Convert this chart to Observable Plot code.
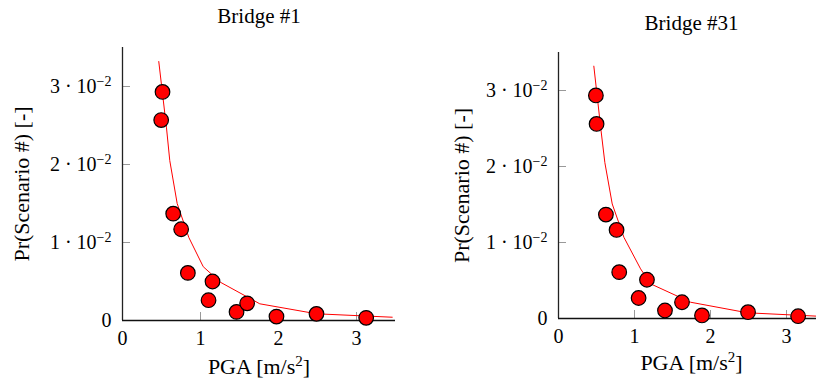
<!DOCTYPE html>
<html><head><meta charset="utf-8">
<script src="https://cdn.jsdelivr.net/npm/d3@7"></script>
<script src="https://cdn.jsdelivr.net/npm/@observablehq/plot@0.6"></script>
<style>
html,body{margin:0;padding:0;background:#fff;overflow:hidden;}
#wrap{position:relative;width:816px;height:383px;overflow:hidden;}
#wrap svg{position:absolute;top:0;}
</style></head><body><div id="wrap"></div>
<script>
const titles = ["Bridge #1", "Bridge #31"];
const xLabel = "PGA [m/s²]";
const yLabel = "Pr(Scenario #) [-]";
const xTicks = [0, 1, 2, 3];
const yTicks = [0, 0.01, 0.02, 0.03];
const yTickLabels = ["0", "1 · 10⁻²", "2 · 10⁻²", "3 · 10⁻²"];

// Bridge #1
const pga1 = [0.513, 0.496, 0.650, 0.752, 0.838, 1.154, 1.103, 1.462, 1.598, 1.974, 2.487, 3.124];
const pr1  = [0.0293, 0.0257, 0.0137, 0.0117, 0.0061, 0.0050, 0.0026, 0.0011, 0.0022, 0.0005, 0.00085, 0.00034];
const fitX1 = [0.465, 0.564, 0.606, 0.701, 0.850, 1.035, 1.256, 1.760, 2.487, 3.458];
const fitY1 = [0.0332, 0.0247, 0.0205, 0.0150, 0.01065, 0.0069, 0.0049, 0.00214, 0.00086, 0.00042];

// Bridge #31
const pga31 = [0.492, 0.501, 0.624, 0.764, 0.799, 1.164, 1.054, 1.401, 1.625, 1.888, 2.494, 3.153];
const pr31  = [0.02935, 0.0256, 0.01367, 0.01165, 0.0061, 0.0051, 0.0027, 0.00105, 0.00214, 0.0004, 0.00083, 0.0003];
const fitX31 = [0.465, 0.560, 0.610, 0.707, 0.861, 1.080, 1.212, 1.739, 2.486, 3.460];
const fitY31 = [0.0332, 0.0247, 0.0205, 0.01507, 0.01068, 0.00653, 0.00456, 0.00214, 0.00075, 0.00028];

const SVGNS = "http://www.w3.org/2000/svg";
function tspan(txt, attrs) {
  const t = document.createElementNS(SVGNS, "tspan");
  for (const k in attrs) t.setAttribute(k, attrs[k]);
  t.textContent = txt;
  return t;
}
// render "⁻²" / "²" as real raised superscripts
function fixSuperscripts(svg) {
  svg.querySelectorAll("text").forEach(el => {
    const s = el.textContent;
    let m = s.match(/^(.*10)⁻²$/);
    if (m) {
      el.textContent = "";
      el.appendChild(tspan(m[1], {}));
      el.appendChild(tspan("−2", {dy: "-7", "font-size": "14"}));
      return;
    }
    m = s.match(/^(.*)²(.*)$/);
    if (m) {
      el.textContent = "";
      el.appendChild(tspan(m[1], {}));
      el.appendChild(tspan("2", {dy: "-8", "font-size": "15"}));
      el.appendChild(tspan(m[2], {dy: "8"}));
    }
  });
}

function panel(cfg) {
  const pts = cfg.pga.map((x, i) => ({x, y: cfg.pr[i]}));
  const fit = cfg.fitX.map((x, i) => ({x, y: cfg.fitY[i]}));
  const svg = Plot.plot({
    width: cfg.width, height: 383,
    marginLeft: cfg.ml, marginRight: cfg.mr, marginTop: cfg.mt, marginBottom: cfg.mb,
    style: {fontFamily: "'Liberation Serif', serif", fontSize: "20px", color: "#000", background: "transparent", overflow: "visible"},
    x: {domain: [0, 3.5]},
    y: {domain: [0, 0.035]},
    marks: [
      Plot.axisX({ticks: xTicks, tickSize: -8, tickPadding: 18, stroke: "#999", fill: "#000", label: null, tickFormat: d => String(d)}),
      Plot.axisY({ticks: yTicks, tickSize: -8, tickPadding: 19, stroke: "#999", fill: "#000", label: null, tickFormat: d => yTickLabels[yTicks.indexOf(d)]}),
      Plot.ruleX([0], {stroke: "#222", strokeWidth: 1.3}),
      Plot.ruleY([0], {stroke: "#111", strokeWidth: 1.3}),
      Plot.line(fit, {x: "x", y: "y", stroke: "red", strokeWidth: 1}),
      Plot.dot(pts, {x: "x", y: "y", r: 7.3, fill: "red", stroke: "black", strokeWidth: 1.2}),
      Plot.text([cfg.title], {text: d => d, frameAnchor: "top", lineAnchor: "top", dy: cfg.titleDy, fontSize: 21}),
      Plot.text([xLabel], {text: d => d, frameAnchor: "bottom", lineAnchor: "bottom", dy: cfg.xlDy, fontSize: 22}),
      Plot.text([yLabel], {text: d => d, frameAnchor: "left", textAnchor: "middle", lineAnchor: "middle", dx: cfg.ylDx, rotate: -90, fontSize: 22})
    ]
  });
  fixSuperscripts(svg);
  return svg;
}

const wrap = document.getElementById("wrap");
const left = panel({title: titles[0], pga: pga1, pr: pr1, fitX: fitX1, fitY: fitY1,
  width: 408, ml: 122, mr: 13, mt: 47, mb: 63, titleDy: -39, xlDy: 53, ylDx: -101});
left.style.left = "0px";
wrap.appendChild(left);
const right = panel({title: titles[1], pga: pga31, pr: pr31, fitX: fitX31, fitY: fitY31,
  width: 416, ml: 150, mr: 0, mt: 52, mb: 65, titleDy: -37, xlDy: 51, ylDx: -97});
right.style.left = "408px";
wrap.appendChild(right);
</script></body></html>
